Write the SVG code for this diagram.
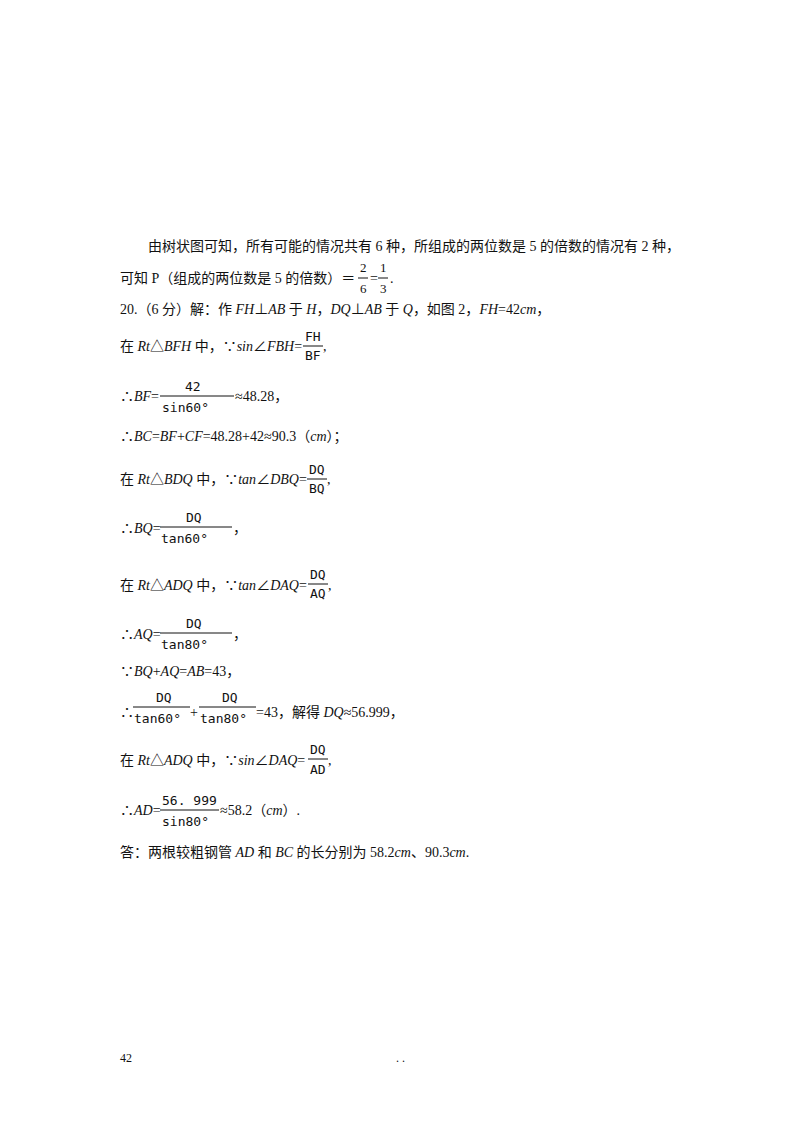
<svg xmlns="http://www.w3.org/2000/svg" width="800" height="1132" viewBox="0 0 800 1132">
<style>
text{font-family:"Liberation Serif","Noto Sans CJK SC",serif;font-size:14px;fill:#111}
.i{font-style:italic}
.m{font-family:"DejaVu Sans Mono","Liberation Mono",monospace;font-size:13px}
.f{font-size:13px}
line{stroke:#111;stroke-width:1}
</style>
<rect width="800" height="1132" fill="#fff"/>
<g id="text">
<text x="148" y="251">由树状图可知，所有可能的情况共有 6 种，所组成的两位数是 5 的倍数的情况有 2 种，</text>
<text x="120" y="283">可知 P（组成的两位数是 5 的倍数）＝</text>
<text x="360" y="272" class="f">2</text><line x1="358" y1="278" x2="368" y2="278"/><text x="360" y="293" class="f">6</text>
<text x="370" y="283">=</text>
<text x="380" y="272" class="f">1</text><line x1="378" y1="278" x2="388" y2="278"/><text x="380" y="293" class="f">3</text>
<text x="390" y="283">.</text>
<text x="120" y="314">20.（6 分）解：作 <tspan class="i">FH</tspan>⊥<tspan class="i">AB</tspan> 于 <tspan class="i">H</tspan>，<tspan class="i">DQ</tspan>⊥<tspan class="i">AB</tspan> 于 <tspan class="i">Q</tspan>，如图 2，<tspan class="i">FH</tspan>=42<tspan class="i">cm</tspan>，</text>
<text x="120" y="351">在 <tspan class="i">Rt</tspan>△<tspan class="i">BFH</tspan> 中，∵<tspan class="i">sin</tspan>∠<tspan class="i">FBH</tspan>=</text>
<text x="305" y="341" class="m">FH</text><line x1="303" y1="346" x2="323" y2="346"/><text x="305" y="360" class="m">BF</text><text x="323" y="351">,</text>
<text x="120" y="401">∴<tspan class="i">BF</tspan>=</text>
<text x="185" y="391" class="m">42</text><line x1="160" y1="396" x2="234" y2="396"/><text x="162" y="412" class="m">sin60°</text>
<text x="235" y="401">≈48.28，</text>
<text x="120" y="441">∴<tspan class="i">BC</tspan>=<tspan class="i">BF</tspan>+<tspan class="i">CF</tspan>=48.28+42≈90.3（<tspan class="i">cm</tspan>）；</text>
<text x="120" y="484">在 <tspan class="i">Rt</tspan>△<tspan class="i">BDQ</tspan> 中，∵<tspan class="i">tan</tspan>∠<tspan class="i">DBQ</tspan>=</text>
<text x="309" y="474" class="m">DQ</text><line x1="307" y1="479" x2="327" y2="479"/><text x="309" y="493" class="m">BQ</text><text x="327" y="484">,</text>
<text x="120" y="533">∴<tspan class="i">BQ</tspan>=</text>
<text x="186" y="522" class="m">DQ</text><line x1="160" y1="527" x2="232" y2="527"/><text x="161" y="543" class="m">tan60°</text><text x="233" y="533">，</text>
<text x="120" y="590">在 <tspan class="i">Rt</tspan>△<tspan class="i">ADQ</tspan> 中，∵<tspan class="i">tan</tspan>∠<tspan class="i">DAQ</tspan>=</text>
<text x="310" y="579" class="m">DQ</text><line x1="308" y1="584" x2="328" y2="584"/><text x="310" y="598" class="m">AQ</text><text x="328" y="590">,</text>
<text x="120" y="639">∴<tspan class="i">AQ</tspan>=</text>
<text x="186" y="628" class="m">DQ</text><line x1="160" y1="633" x2="232" y2="633"/><text x="161" y="649" class="m">tan80°</text><text x="233" y="639">，</text>
<text x="120" y="676">∵<tspan class="i">BQ</tspan>+<tspan class="i">AQ</tspan>=<tspan class="i">AB</tspan>=43，</text>
<text x="120" y="717">∴</text>
<text x="156" y="702" class="m">DQ</text><line x1="133" y1="707" x2="190" y2="707"/><text x="134" y="723" class="m">tan60°</text>
<text x="190" y="717">+</text>
<text x="222" y="702" class="m">DQ</text><line x1="199" y1="707" x2="256" y2="707"/><text x="200" y="723" class="m">tan80°</text>
<text x="256" y="717">=43，解得 <tspan class="i">DQ</tspan>≈56.999，</text>
<text x="120" y="765">在 <tspan class="i">Rt</tspan>△<tspan class="i">ADQ</tspan> 中，∵<tspan class="i">sin</tspan>∠<tspan class="i">DAQ</tspan>=</text>
<text x="310" y="754" class="m">DQ</text><line x1="308" y1="759" x2="328" y2="759"/><text x="310" y="774" class="m">AD</text><text x="328" y="765">,</text>
<text x="120" y="815">∴<tspan class="i">AD</tspan>=</text>
<text x="162" y="805" class="m">56. 999</text><line x1="160" y1="810" x2="219" y2="810"/><text x="162" y="826" class="m">sin80°</text>
<text x="220" y="815">≈58.2（<tspan class="i">cm</tspan>）.</text>
<text x="120" y="857">答：两根较粗钢管 <tspan class="i">AD</tspan> 和 <tspan class="i">BC</tspan> 的长分别为 58.2<tspan class="i">cm</tspan>、90.3<tspan class="i">cm</tspan>.</text>
<text x="120" y="1062" style="font-size:12px">42</text>
<text x="396" y="1062" style="font-size:12px">. .</text>
</g>
</svg>
